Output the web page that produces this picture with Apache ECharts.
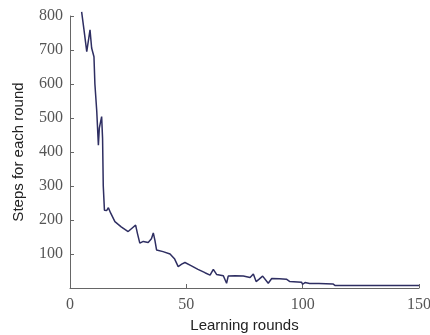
<!DOCTYPE html>
<html><head><meta charset="utf-8">
<script src="https://cdn.jsdelivr.net/npm/echarts@6/dist/echarts.min.js"></script>
<style>html,body{margin:0;padding:0;background:#fff}#c{width:430px;height:335px}</style>
</head><body><div id="c"></div>
<script>
var rounds = [5, 6, 7.2, 7.8, 8.6, 9.3, 10.3, 10.7, 11.5, 12.2, 12.6, 13.6, 14.0, 14.3, 14.8, 15.8, 16.5, 17.5, 19.3, 22, 25, 27, 28.2, 29, 30, 31.5, 33.6, 35, 35.8, 36.5, 37.2, 40, 43, 45, 46.5, 48, 49.4, 52, 55, 58, 60.2, 61.6, 63, 65.9, 67.3, 68, 71, 74.5, 77.4, 78.8, 80, 81.3, 82.8, 85.2, 86.7, 90, 93, 94.5, 99.5, 100, 101, 103, 107, 113, 114, 130, 150];
var steps = [812, 760, 695, 700, 759, 706, 680, 600, 520, 420, 470, 504, 440, 300, 229, 228, 236, 220, 195, 180, 166, 178, 185, 160, 132, 137, 134, 145, 162, 140, 112, 107, 100, 85, 63, 70, 75, 66, 55, 45, 38, 55, 40, 36, 14, 35, 36, 35, 31, 41, 19, 26, 35, 14, 28, 27, 26, 19, 17, 11, 16, 13, 13, 12, 7, 7, 7];
var xTicks = [0, 50, 100, 150];
var yTicks = [100, 200, 300, 400, 500, 600, 700, 800];
var data = rounds.map(function (r, i) { return [r, steps[i]]; });
var chart = echarts.init(document.getElementById('c'));
chart.setOption({
  animation: false,
  grid: {left: 70, right: 11, top: 16, bottom: 47, containLabel: false, outerBoundsMode: 'none'},
  xAxis: {
    type: 'value', min: 0, max: 150, interval: 50,
    name: 'Learning rounds', nameLocation: 'middle', nameGap: 30,
    nameTextStyle: {fontFamily: 'Liberation Sans', fontSize: 15, color: '#222'},
    axisLine: {lineStyle: {color: '#666', width: 1}},
    axisTick: {inside: true, length: 4, lineStyle: {color: '#666'}},
    axisLabel: {fontFamily: 'Liberation Serif', fontSize: 16, color: '#555', margin: 9,
      formatter: function (v) { return xTicks.indexOf(v) >= 0 ? String(v) : ''; }},
    splitLine: {show: false}
  },
  yAxis: {
    type: 'value', min: 0, max: 800, interval: 100,
    name: 'Steps for each round', nameLocation: 'middle', nameGap: 44,
    nameTextStyle: {fontFamily: 'Liberation Sans', fontSize: 15, color: '#222'},
    axisLine: {show: true, lineStyle: {color: '#666', width: 1}},
    axisTick: {show: true, inside: true, length: 4, lineStyle: {color: '#666'}},
    axisLabel: {fontFamily: 'Liberation Serif', fontSize: 16, color: '#555', margin: 7,
      formatter: function (v) { return yTicks.indexOf(v) >= 0 ? String(v) : ''; }},
    splitLine: {show: false}
  },
  series: [{
    type: 'line', data: data, showSymbol: false, symbol: 'none', clip: false,
    lineStyle: {color: '#2e2e62', width: 1.5}
  }]
});
</script></body></html>
